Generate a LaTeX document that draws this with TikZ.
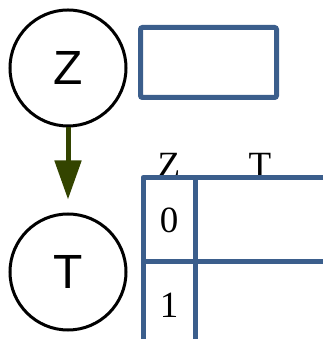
\documentclass[tikz,border=0pt]{standalone}
\usepackage{fontspec}
\setmainfont{Liberation Serif}
\newfontfamily\circfont{Liberation Sans}
\usepackage{xcolor}
\usetikzlibrary{arrows.meta,positioning,calc}

\definecolor{tblue}{HTML}{3B5E8C}
\definecolor{tolive}{HTML}{334400}

\begin{document}
\begin{tikzpicture}[x=1pt, y=1pt,
    var/.style={circle, draw, line width=3pt, minimum size=116pt, inner sep=0pt, font=\circfont\fontsize{48}{48}\selectfont},
    cpd/.style={rectangle, draw=tblue, line width=5pt, minimum width=136pt, minimum height=70pt, inner sep=0pt, rounded corners=2pt},
    tline/.style={draw=tblue, line width=5pt, line join=round},
    lbl/.style={inner sep=0pt, font=\fontsize{37}{37}\selectfont},
    arrow/.style={-{Triangle[length=39pt, width=26pt]}, line width=5pt, draw=tolive, shorten >=13pt}]

    \useasboundingbox (0,0) rectangle (323,339);

    % Variables
    \node[var] (Z) at (68,271) {Z};
    \node[var] (T) at (68,67) {T};

    % Empty table for Z
    \node[cpd] (cpdZ) at (208.5,276.5) {};

    % Table for T
    \coordinate (tl) at (143,161.5);
    \node[lbl, anchor=base] (hZ) at (169,161.5) {Z};
    \node[lbl, anchor=base] (hT) at (260,161.5) {T};
    \node[lbl] (r0) at (169,119) {0};
    \node[lbl] (r1) at (169,34) {1};
    \draw[tline] (323,161.5) -- (tl) -- (143,0);
    \draw[tline] (195.5,161.5) -- (195.5,0);
    \draw[tline] (143,77.5) -- (323,77.5);

    % Arrows
    \draw[arrow] (Z) -- (T);

\end{tikzpicture}
\end{document}
